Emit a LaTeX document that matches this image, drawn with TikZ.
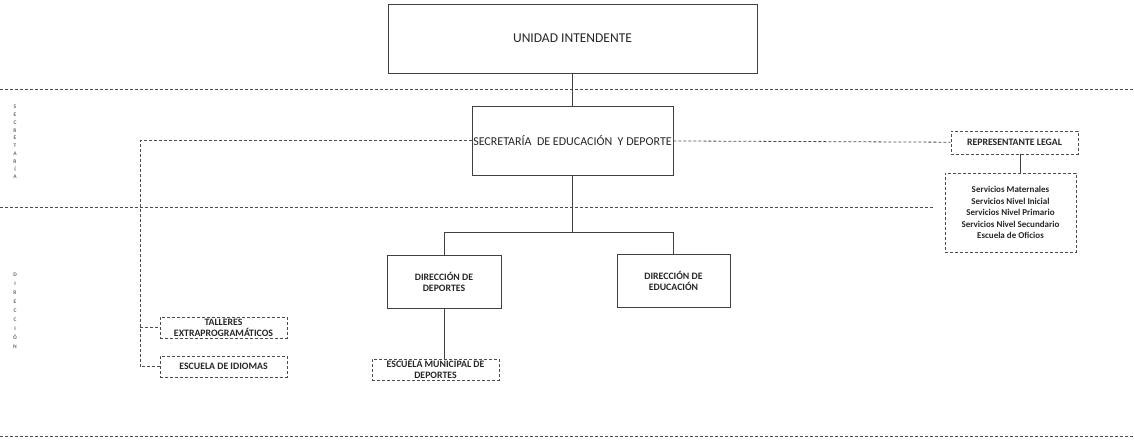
\documentclass[tikz,border=0pt]{standalone}
\usepackage{fontspec}
\setmainfont{Carlito}
\usepackage{tikz}

\begin{document}
\begin{tikzpicture}[x=1pt, y=-1pt,
  every node/.style={inner sep=1pt, align=center, text=black!85},
  solidbox/.style={draw=black!75, line width=0.8pt},
  dashbox/.style={draw=black!70, line width=0.8pt, dash pattern=on 3pt off 2pt},
  small/.style={font=\fontsize{9.8}{11}\selectfont\bfseries},
  serv/.style={font=\fontsize{9}{11.5}\selectfont\bfseries}]
  \useasboundingbox (0,0) rectangle (1134,439);

  % franjas
  \draw[dashbox] (0,89) -- (1134,89);
  \draw[dashbox] (0,207) -- (933,207);
  \draw[dashbox] (0,436) -- (1134,436);
  \node[font=\fontsize{5.5}{7.8}\selectfont\bfseries, text=black!60] (SEC) at (15,142) {S\\E\\C\\R\\E\\T\\A\\R\\Í\\A};
  \node[font=\fontsize{5.5}{9}\selectfont\bfseries, text=black!60] (DIR) at (15,311) {D\\I\\R\\E\\C\\C\\I\\Ó\\N};

  \node[solidbox, minimum width=369, minimum height=69, font=\fontsize{13.5}{15}\selectfont] (UI) at (572.5,38.5) {UNIDAD INTENDENTE};
  \node[solidbox, minimum width=201, minimum height=69, font=\fontsize{12}{14}\selectfont] (SED) at (572.5,140.5) {SECRETARÍA~~DE EDUCACIÓN~~Y DEPORTE};
  \node[dashbox, small, minimum width=127, minimum height=23] (RL) at (1014.5,142.5) {REPRESENTANTE LEGAL};
  \node[dashbox, serv, minimum width=131, minimum height=79] (SV) at (1010.5,212.5) {Servicios Maternales\\Servicios Nivel Inicial\\Servicios Nivel Primario\\Servicios Nivel Secundario\\Escuela de Oficios};
  \node[solidbox, small, minimum width=114, minimum height=53] (DD) at (444,281.5) {DIRECCIÓN DE\\DEPORTES};
  \node[solidbox, small, minimum width=113, minimum height=53] (DE) at (673.5,280.5) {DIRECCIÓN DE\\EDUCACIÓN};
  \node[dashbox, small, minimum width=127, minimum height=21, inner sep=0pt] (EMD) at (435.5,369.5) {ESCUELA MUNICIPAL DE\\DEPORTES};
  \node[dashbox, small, minimum width=127, minimum height=21, inner sep=0pt] (TE) at (223.5,327.5) {TALLERES\\EXTRAPROGRAMÁTICOS};
  \node[dashbox, small, minimum width=127, minimum height=21] (EI) at (223.5,366.5) {ESCUELA DE IDIOMAS};

  \coordinate (J) at (572.5,232);
  \coordinate (K) at (140,146);

  \draw[solidbox] (UI) -- (SED);
  \draw[solidbox] (SED) -- (J) -| (DD.north);
  \draw[solidbox] (J) -| (DE.north);
  \draw[solidbox] (DD) -- (DD.south |- EMD.north);
  \draw[solidbox] (RL.south -| 1020,0) -- (SV.north -| 1020,0);
  \draw[dashbox] (SED) -- (RL);
  \draw[dashbox] (SED.west) -| (K |- EI.west) -- (EI.west);
  \draw[dashbox] (K |- TE.west) -- (TE.west);
\end{tikzpicture}
\end{document}
